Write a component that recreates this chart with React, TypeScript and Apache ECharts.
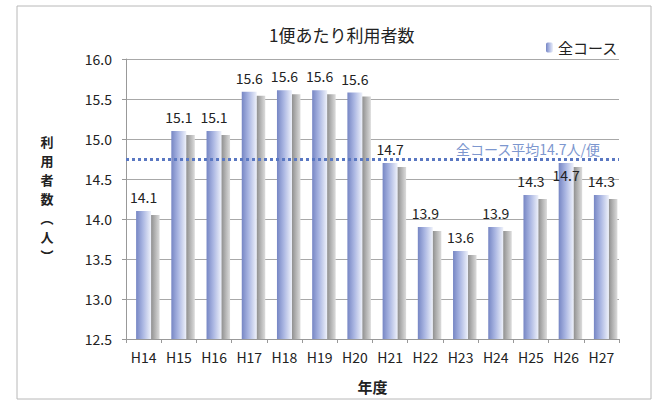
import React, { useEffect, useRef } from "react";
import * as echarts from "echarts";

const categories = ["H14", "H15", "H16", "H17", "H18", "H19", "H20", "H21", "H22", "H23", "H24", "H25", "H26", "H27"];
const values = [14.1, 15.1, 15.1, 15.59, 15.61, 15.61, 15.58, 14.7, 13.9, 13.6, 13.9, 14.3, 14.7, 14.3];
const seriesName = "全コース";
const avgLineValue = 14.75;
const avgLabel = "全コース平均14.7人/便";
const titleText = "1便あたり利用者数";
const yAxisName = "利用者数（人）";
const xAxisName = "年度";

const FONT = "'Noto Sans CJK JP', 'Noto Sans', sans-serif";

export default function App() {
  const ref = useRef<HTMLDivElement>(null);
  useEffect(() => {
    if (!ref.current) return;
    const chart = echarts.init(ref.current, null, { renderer: "svg" });
    const barGrad = new echarts.graphic.LinearGradient(0, 0, 1, 0, [
      { offset: 0, color: "#7686c4" },
      { offset: 0.45, color: "#aab6e2" },
      { offset: 1, color: "#eef1fa" },
    ]);
    const nameChars = yAxisName.replace("（", "︵").replace("）", "︶").split("");
    const nameStep = 19;
    const nameTop = 198 - ((nameChars.length - 1) * nameStep) / 2;
    const nameGraphics = nameChars.map((ch, i) => ({
      type: "text",
      silent: true,
      x: 47,
      y: nameTop + i * nameStep,
      style: {
        text: ch,
        fontFamily: FONT,
        fontSize: 13,
        fontWeight: "bold",
        fill: "#222",
        align: "center",
        verticalAlign: "middle",
        lineHeight: 13,
      },
    }));
    chart.setOption({
      animation: false,
      backgroundColor: "#ffffff",
      textStyle: { fontFamily: FONT },
      title: {
        text: titleText,
        left: 264,
        top: 21,
        textStyle: { fontFamily: FONT, fontSize: 17, fontWeight: "normal", color: "#222" },
      },
      legend: {
        data: [seriesName],
        left: 541,
        top: 35,
        itemWidth: 7,
        itemHeight: 10,
        itemGap: 4,
        textStyle: { fontFamily: FONT, fontSize: 15, color: "#222" },
      },
      graphic: [
        {
          type: "rect",
          shape: { x: 17, y: 6, width: 634, height: 393 },
          style: { fill: "none", stroke: "#b8b8b8", lineWidth: 1 },
          silent: true,
        },
        ...nameGraphics,
      ],
      grid: { left: 126, top: 59, width: 493, height: 280 },
      xAxis: {
        type: "category",
        data: categories,
        name: xAxisName,
        nameLocation: "middle",
        nameGap: 40,
        nameTextStyle: { fontFamily: FONT, fontSize: 15, fontWeight: "bold", color: "#222" },
        axisLine: { lineStyle: { color: "#999" } },
        axisTick: { show: true, interval: 0, length: 4, lineStyle: { color: "#999" } },
        axisLabel: { fontFamily: FONT, fontSize: 14, color: "#222", margin: 11, interval: 0 },
      },
      yAxis: {
        type: "value",
        min: 12.5,
        max: 16,
        interval: 0.5,
        axisLine: { show: true, lineStyle: { color: "#999" } },
        axisTick: { show: true, length: 4, lineStyle: { color: "#999" } },
        axisLabel: {
          fontFamily: FONT,
          fontSize: 14,
          color: "#222",
          margin: 14,
          formatter: (v: number) => v.toFixed(1),
        },
        splitLine: { lineStyle: { color: "#a8a8a8" } },
      },
      series: [
        {
          type: "custom",
          name: "shadow",
          z: 1,
          silent: true,
          data: values.map((v, i) => [i, v]),
          renderItem: (params: any, api: any) => {
            const top = api.coord([api.value(0), api.value(1)]);
            const bottom = api.coord([api.value(0), 12.5]);
            const x = top[0] + 7;
            return {
              type: "rect",
              shape: { x, y: top[1] + 4, width: 9, height: bottom[1] - top[1] - 4 },
              style: {
                fill: new echarts.graphic.LinearGradient(0, 0, 1, 0, [
                  { offset: 0, color: "#8c8c8c" },
                  { offset: 0.5, color: "#b4b4b4" },
                  { offset: 1, color: "#dcdcdc" },
                ]),
              },
            };
          },
        },
        {
          type: "bar",
          name: seriesName,
          z: 2,
          barWidth: 15,
          itemStyle: { color: barGrad },
          data: values.map((v, i) => ({
            value: v,
            label: categories[i] === "H26" ? { offset: [0, 26] } : undefined,
          })),
          label: {
            show: true,
            position: "top",
            distance: 7,
            fontFamily: FONT,
            fontSize: 14,
            color: "#222",
            formatter: (p: any) => Number(p.value).toFixed(1),
          },
          markLine: {
            silent: true,
            symbol: "none",
            data: [{ yAxis: avgLineValue }],
            lineStyle: { color: "#5a78c2", type: [3, 3], width: 3 },
            label: {
              show: true,
              position: "insideEndTop",
              distance: [19, 3],
              formatter: avgLabel,
              fontFamily: FONT,
              fontSize: 14,
              color: "#7d97cf",
            },
          },
        },
      ],
    });
    return () => chart.dispose();
  }, []);
  return (
    <div
      ref={ref}
      style={{ position: "absolute", left: 0, top: 0, width: 661, height: 405 }}
    />
  );
}
